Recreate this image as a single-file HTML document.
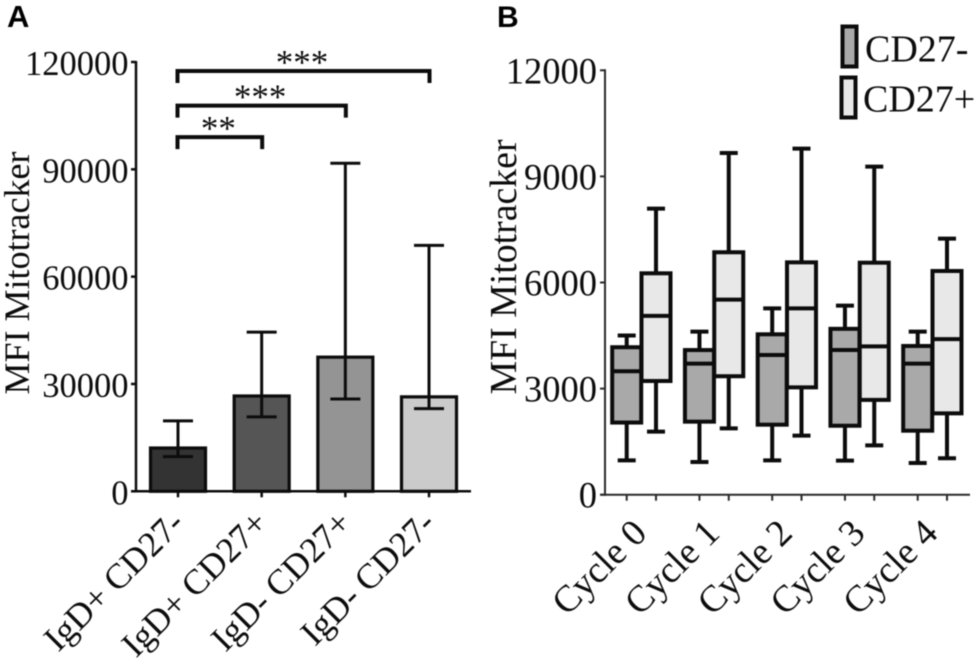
<!DOCTYPE html>
<html>
<head>
<meta charset="utf-8">
<title>MFI Mitotracker charts</title>
<style>
html,body{margin:0;padding:0;background:#fff;}
svg{display:block;filter:blur(0.4px);}
text{font-family:"Liberation Serif",serif;fill:#0c0c0c;}
.panel{font-family:"Liberation Sans",sans-serif;font-weight:bold;fill:#000;}
</style>
</head>
<body>
<svg id="fig" width="980" height="658" viewBox="0 0 980 658" xmlns="http://www.w3.org/2000/svg">
  <text class="panel" x="7" y="27" font-size="31">A</text>
  <text class="panel" x="497" y="27" font-size="30">B</text>
  <g id="chartA"></g>
  <g id="chartB"></g>
</svg>
<script>
// Panel A data
var barCategories = ["IgD+ CD27-", "IgD+ CD27+", "IgD- CD27+", "IgD- CD27-"];
var barValues = [12100, 26640, 37500, 26400];
var barUpper = [19700, 44500, 91700, 68750];
var barLower = [9700, 20800, 25800, 23100];
var barFills = ["#333333", "#555555", "#949494", "#cbcbcb"];
var barTicks = [0, 30000, 60000, 90000, 120000];
var bracketFrom = [0, 0, 0];
var bracketTo = [1, 2, 3];
var bracketLevel = [99000, 107800, 117500];
var bracketStars = ["**", "***", "***"];

// Panel B data
var cycleCategories = ["Cycle 0", "Cycle 1", "Cycle 2", "Cycle 3", "Cycle 4"];
var boxTicks = [0, 3000, 6000, 9000, 12000];
var negLow = [972, 925, 972, 962, 897];
var negQ1 = [2040, 2065, 1980, 1950, 1810];
var negMedian = [3490, 3705, 3950, 4090, 3705];
var negQ3 = [4170, 4090, 4535, 4690, 4205];
var negHigh = [4500, 4610, 5270, 5345, 4610];
var posLow = [1782, 1877, 1670, 1395, 1030];
var posQ1 = [3215, 3350, 3035, 2680, 2300];
var posMedian = [5055, 5515, 5270, 4195, 4400];
var posQ3 = [6260, 6855, 6570, 6560, 6325];
var posHigh = [8090, 9660, 9785, 9275, 7240];
var legendLabels = ["CD27-", "CD27+"];

var NS = "http://www.w3.org/2000/svg";
var INK = "#0c0c0c";

function mk(parent, tag, attrs, txt) {
  var el = document.createElementNS(NS, tag);
  for (var k in attrs) el.setAttribute(k, attrs[k]);
  if (txt !== undefined) el.textContent = txt;
  parent.appendChild(el);
  return el;
}
function line(parent, x1, y1, x2, y2, w, col) {
  return mk(parent, "line", {x1: x1, y1: y1, x2: x2, y2: y2, stroke: col || INK, "stroke-width": w});
}

// Axis functions
function yA(v) { return 491.3 - v / 120000 * 429.3; }
function xA(i) { return 178 + i * 83.67; }
function yB(v) { return 494.7 - v / 12000 * 424.4; }
function xB(g, s) { return 626.7 + g * 72.75 + s * 29.3; }

var A = document.getElementById("chartA");
var B = document.getElementById("chartB");
var el;

// ---------- Panel A ----------
barValues.forEach(function (v, i) {
  el = mk(A, "rect", {x: xA(i) - 27.5, y: yA(v), width: 55, height: yA(0) - yA(v), fill: barFills[i], stroke: INK, "stroke-width": 3.2});
  
  
  el = line(A, xA(i), yA(barLower[i]), xA(i), yA(barUpper[i]), 3);
  
  
  el = line(A, xA(i) - 15, yA(barUpper[i]), xA(i) + 15, yA(barUpper[i]), 3);
  
  
  el = line(A, xA(i) - 15, yA(barLower[i]), xA(i) + 15, yA(barLower[i]), 3);
  
  
});
el = line(A, 136, yA(120000) - 1, 136, yA(0) + 1, 2.5);


el = line(A, 131, yA(0), 471, yA(0), 2.5);


barTicks.forEach(function (t) {
  el = line(A, 131, yA(t), 136, yA(t), 2.5);
  
  
  el = mk(A, "text", {x: 128.5, y: yA(t) + 13, "text-anchor": "end", "font-size": 34.5}, String(t));
  
  
});
barCategories.forEach(function (c, i) {
  el = line(A, xA(i), yA(0), xA(i), yA(0) + 6, 2.5);
  
  
  var px = xA(i) + 8, py = 525;
  el = mk(A, "text", {x: px, y: py, "text-anchor": "end", "font-size": 35.5, transform: "rotate(-45 " + px + " " + py + ")"}, c);
  
  
});
el = mk(A, "text", {x: 0, y: 0, "text-anchor": "middle", "font-size": 36, transform: "translate(29 273) rotate(-90)"}, "MFI Mitotracker");



bracketLevel.forEach(function (lv, i) {
  var x1 = xA(bracketFrom[i]) - 0.5, x2 = xA(bracketTo[i]) + 0.5, y = yA(lv);
  el = mk(A, "path", {d: "M" + x1 + " " + (y + 12) + "V" + y + "H" + x2 + "V" + (y + 12), fill: "none", stroke: INK, "stroke-width": 4});
  
  
  el = mk(A, "text", {x: (x1 + x2) / 2 - 1.5, y: y + 3, "text-anchor": "middle", "font-size": 35}, bracketStars[i]);
  
  
});

// ---------- Panel B ----------
function drawBox(g, s, low, q1, med, q3, high, fill) {
  var x = xB(g, s), hw = 14.5;
  el = line(B, x, yB(low), x, yB(high), 4);
  
  
  el = line(B, x - 9, yB(high), x + 9, yB(high), 4);
  
  
  el = line(B, x - 9, yB(low), x + 9, yB(low), 4);
  
  
  el = mk(B, "rect", {x: x - hw, y: yB(q3), width: hw * 2, height: yB(q1) - yB(q3), fill: fill, stroke: INK, "stroke-width": 4});
  
  
  el = line(B, x - hw, yB(med), x + hw, yB(med), 4);
  
  
}
cycleCategories.forEach(function (c, g) {
  drawBox(g, 0, negLow[g], negQ1[g], negMedian[g], negQ3[g], negHigh[g], "#a9a9a9");
});
cycleCategories.forEach(function (c, g) {
  drawBox(g, 1, posLow[g], posQ1[g], posMedian[g], posQ3[g], posHigh[g], "#e8e8e8");
});
el = line(B, 605, yB(12000) - 1, 605, yB(0) + 1, 2, "#2a2a2a");


el = line(B, 600, yB(0), 970, yB(0), 2, "#2a2a2a");


boxTicks.forEach(function (t) {
  el = line(B, 600, yB(t), 605, yB(t), 2, "#2a2a2a");
  
  
  el = mk(B, "text", {x: 597, y: yB(t) + 13, "text-anchor": "end", "font-size": 36.5}, String(t));
  
  
});
cycleCategories.forEach(function (c, g) {
  el = line(B, xB(g, 0), yB(0), xB(g, 0), yB(0) + 6, 2, "#2a2a2a");
  
  
  el = line(B, xB(g, 1), yB(0), xB(g, 1), yB(0) + 6, 2, "#2a2a2a");
  
  
  var px = xB(g, 0) + 22, py = 535;
  el = mk(B, "text", {x: px, y: py, "text-anchor": "end", "font-size": 37.5, transform: "rotate(-45 " + px + " " + py + ")"}, c);
  
  
});
el = mk(B, "text", {x: 0, y: 0, "text-anchor": "middle", "font-size": 37.8, transform: "translate(516 267) rotate(-90)"}, "MFI Mitotracker");



// Legend
el = mk(B, "rect", {x: 842.5, y: 26.5, width: 14, height: 40, fill: "#a9a9a9", stroke: INK, "stroke-width": 4});


el = mk(B, "text", {x: 865, y: 61.5, "font-size": 38}, legendLabels[0]);


el = mk(B, "rect", {x: 841.5, y: 77.5, width: 14, height: 40, fill: "#e8e8e8", stroke: INK, "stroke-width": 4});


el = mk(B, "text", {x: 863, y: 111.5, "font-size": 38}, legendLabels[1]);


</script>
</body>
</html>
